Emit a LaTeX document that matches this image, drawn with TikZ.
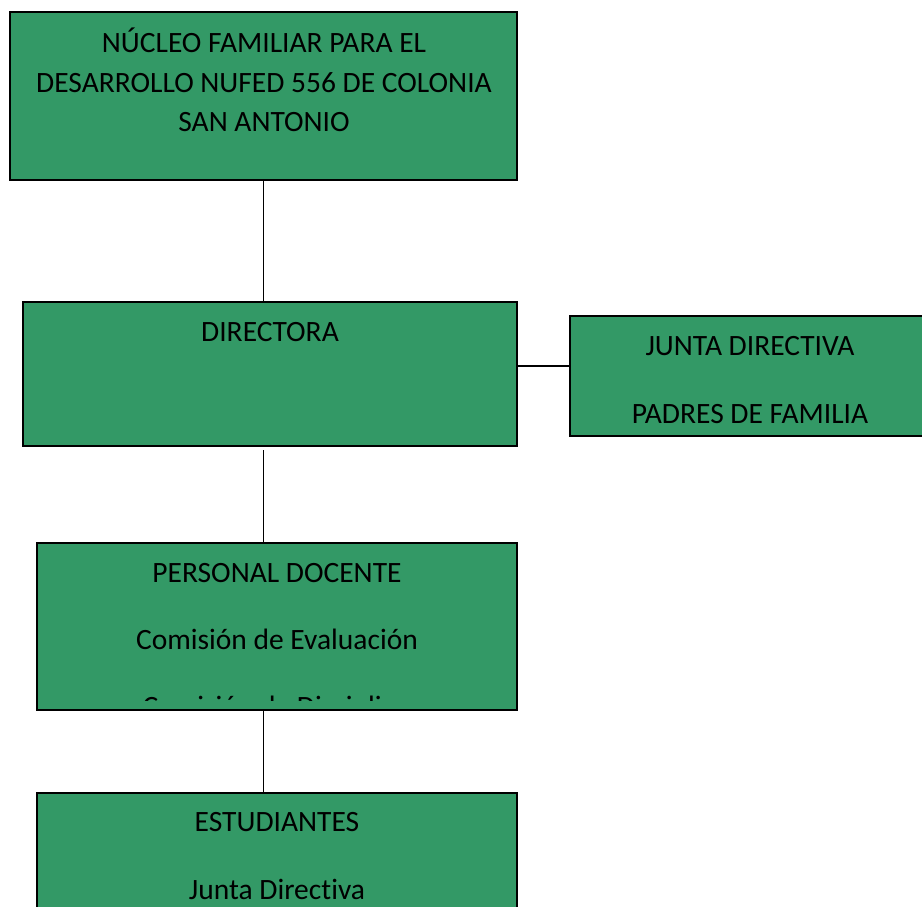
\documentclass[tikz,border=0pt]{standalone}
\usepackage{fontspec}
\setmainfont{Carlito}[Ligatures={NoCommon}]
\usetikzlibrary{positioning}
\definecolor{orggreen}{RGB}{51,153,102}
\begin{document}
\begin{tikzpicture}[x=1pt,y=1pt,inner sep=0pt,outer sep=0pt,line width=1.3pt,
orgbox/.style={draw,rectangle,fill=orggreen,anchor=north west},
orgtext/.style={anchor=base,align=center,font=\fontsize{29.5}{39.5}\selectfont}]
\useasboundingbox (0,0) rectangle (922,-907);
\clip (0,0) rectangle (922,-907);
\draw (10,-12) node[orgbox,minimum width=507pt,minimum height=168pt] (nucleo) {};
\draw (23,-302) node[orgbox,minimum width=494pt,minimum height=144pt] (directora) {};
\draw (570,-316) node[orgbox,minimum width=360pt,minimum height=120pt] (junta) {};
\draw (37,-543) node[orgbox,minimum width=480pt,minimum height=167pt] (docente) {};
\draw (37,-793) node[orgbox,minimum width=480pt,minimum height=140pt] (estudiantes) {};

% the base anchor sits on the last line
\draw (264,-131.5) node[orgtext] (nucleotxt) {NÚCLEO FAMILIAR PARA EL\\DESARROLLO NUFED 556 DE COLONIA\\SAN ANTONIO};
\draw (270,-341.5) node[orgtext] (directoratxt) {DIRECTORA};
\draw (750,-423.5) node[orgtext,font=\fontsize{29.5}{68}\selectfont] (juntatxt) {JUNTA DIRECTIVA\\PADRES DE FAMILIA};
\begin{scope}
\clip (37,-543) rectangle (517,-700);
\draw (277,-716.5) node[orgtext,font=\fontsize{29.5}{67}\selectfont] (docentetxt) {PERSONAL DOCENTE\\Comisión de Evaluación\\Comisión de Disciplina};
\end{scope}
\draw (docente.south west) rectangle (docente.north east);
\draw (277,-899.5) node[orgtext,font=\fontsize{29.5}{68}\selectfont] (estudiantestxt) {ESTUDIANTES\\Junta Directiva};

\coordinate (dirbot) at ([yshift=-4pt]directora.south -| nucleo.south);
\coordinate (dirright) at (directora.east |- 0,-366);
\draw (nucleo.south) -- (nucleo.south |- directora.north);
\draw (dirright) -- (dirright -| junta.west);
\draw (dirbot) -- (dirbot |- docente.north);
\draw (docente.south -| nucleo.south) -- (estudiantes.north -| nucleo.south);
\end{tikzpicture}
\end{document}
